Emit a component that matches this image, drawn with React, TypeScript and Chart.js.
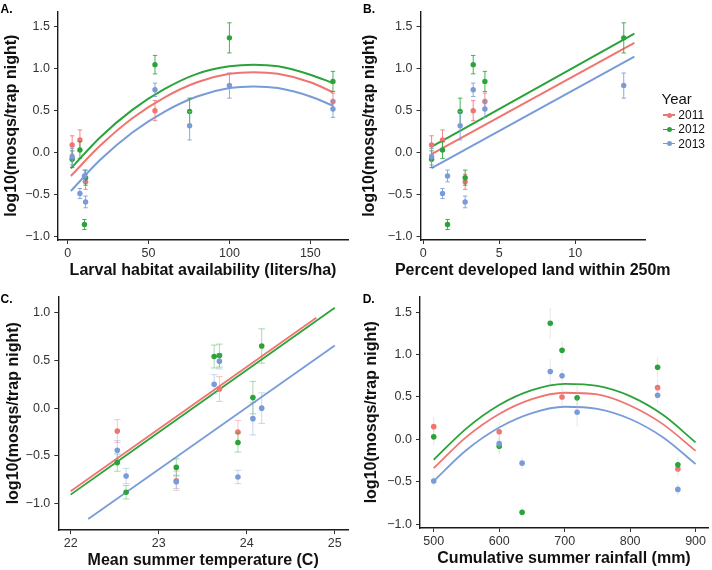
import React, { useEffect, useRef } from 'react';
import { Chart, registerables } from 'chart.js';

Chart.register(...registerables);

const FONT = '"Liberation Sans", Arial, Helvetica, sans-serif';

// ---------- data ----------
const YEARS = ['2011', '2012', '2013'];
const COLORS = ['#F07470', '#2CA33A', '#799CD9'];

// site-level predictors (8 sites)
const habitat = [2.8, 7.6, 10.4, 75.4, 11.1, 54, 164, 100];
const developed = [0.55, 1.27, 1.6, 2.43, 2.76, 3.29, 4.06, 13.2];
const rainfall = [600, 500, 635, 719, 873, 696, 842, 678];

// log10(mosqs/trap night) per site and year, with standard errors
const log2011 = [0.09, 0.15, null, null, -0.35, 0.5, 0.61, null];
const log2012 = [-0.08, 0.03, -0.86, 0.49, -0.3, 1.05, 0.85, 1.37];
const log2013 = [-0.05, -0.49, -0.28, 0.32, -0.59, 0.75, 0.52, 0.8];
const se2011 = [0.11, 0.12, null, null, 0.09, 0.12, 0.1, null];
const se2012 = [0.1, 0.1, 0.06, 0.16, 0.09, 0.11, 0.12, 0.18];
const se2013 = [0.1, 0.06, 0.07, 0.17, 0.07, 0.08, 0.1, 0.15];

// panel C: mean summer temperature by year
const temp2011 = [22.53, 23.2, 23.69, 23.9];
const tlog2011 = [-0.24, -0.76, 0.2, -0.25];
const tse2011 = [0.12, 0.1, 0.13, 0.12];
const temp2012 = [22.53, 22.63, 23.2, 23.63, 23.69, 23.9, 24.07, 24.17];
const tlog2012 = [-0.57, -0.88, -0.62, 0.54, 0.55, -0.36, 0.11, 0.65];
const tse2012 = [0.09, 0.07, 0.09, 0.12, 0.12, 0.1, 0.17, 0.18];
const temp2013 = [22.53, 22.63, 23.2, 23.63, 23.69, 23.9, 24.07, 24.17];
const tlog2013 = [-0.44, -0.71, -0.77, 0.25, 0.49, -0.72, -0.11, 0.0];
const tse2013 = [0.1, 0.08, 0.07, 0.1, 0.08, 0.07, 0.17, 0.16];

// fitted curves
const fitAx = [2, 20, 40, 60, 80, 100, 115, 130, 150, 164];
const fitA2011 = [-0.28, 0.08, 0.41, 0.66, 0.84, 0.94, 0.96, 0.94, 0.84, 0.72];
const fitA2012 = [-0.19, 0.18, 0.51, 0.76, 0.94, 1.03, 1.05, 1.03, 0.93, 0.83];
const fitA2013 = [-0.46, -0.09, 0.24, 0.49, 0.67, 0.77, 0.79, 0.77, 0.67, 0.56];

const fitBx = [0.55, 13.9];
const fitB2011 = [-0.02, 1.31];
const fitB2012 = [0.07, 1.42];
const fitB2013 = [-0.185, 1.145];

const fitCx2011 = [22, 24.79];
const fitC2011 = [-0.87, 0.945];
const fitCx2012 = [22, 25];
const fitC2012 = [-0.905, 1.05];
const fitCx2013 = [22.2, 25];
const fitC2013 = [-1.16, 0.655];

const fitDx = [500, 550, 600, 650, 700, 750, 800, 850, 900];
const fitD2011 = [-0.34, 0.03, 0.3, 0.475, 0.55, 0.53, 0.4, 0.18, -0.135];
const fitD2012 = [-0.24, 0.13, 0.405, 0.58, 0.655, 0.63, 0.51, 0.29, -0.035];
const fitD2013 = [-0.49, -0.125, 0.14, 0.31, 0.385, 0.36, 0.24, 0.025, -0.29];

// ticks
const yTicksMain = [-1, -0.5, 0, 0.5, 1, 1.5];
const yTicksC = [-1, -0.5, 0, 0.5, 1];
const xTicksA = [0, 50, 100, 150];
const xTicksB = [0, 5, 10];
const xTicksC = [22, 23, 24, 25];
const xTicksD = [500, 600, 700, 800, 900];

const Y_TITLE = 'log10(mosqs/trap night)';

// ---------- helpers ----------
type Series = { x: number[]; y: (number | null)[]; se: (number | null)[] };
type Fit = { x: number[]; y: number[] };

type Panel = {
  left: number; top: number; width: number; height: number;
  pad: { top: number; right: number; bottom: number; left: number };
  yWidth: number; xHeight: number;
  xMin: number; xMax: number; yMin: number; yMax: number;
  xTicks: number[]; yTicks: number[];
  xTitle: string; xTitleY: number; yTitleX: number;
  points: Series[]; fits: Fit[];
  errAlpha: number; errCap: number; errGrey?: string;
  pointRadius: number; lineWidth: number;
};

function hexToRgba(hex: string, a: number) {
  const n = parseInt(hex.slice(1), 16);
  return `rgba(${(n >> 16) & 255},${(n >> 8) & 255},${n & 255},${a})`;
}

const errorBarPlugin = {
  id: 'errorBars',
  beforeDatasetDraw(chart: any, args: any) {
    const ds = chart.data.datasets[args.index];
    if (!ds.errors) return;
    const meta = args.meta;
    const ys = chart.scales.y;
    const ctx = chart.ctx;
    ctx.save();
    ctx.strokeStyle = ds.errorColor;
    ctx.lineWidth = 1;
    ds.data.forEach((p: any, i: number) => {
      const e = ds.errors[i];
      if (e == null) return;
      const el = meta.data[i];
      if (!el) return;
      const x = el.x;
      const y1 = ys.getPixelForValue(p.y + e);
      const y2 = ys.getPixelForValue(p.y - e);
      ctx.beginPath();
      ctx.moveTo(x, y1);
      ctx.lineTo(x, y2);
      if (ds.errorCap > 0) {
        ctx.moveTo(x - ds.errorCap, y1);
        ctx.lineTo(x + ds.errorCap, y1);
        ctx.moveTo(x - ds.errorCap, y2);
        ctx.lineTo(x + ds.errorCap, y2);
      }
      ctx.stroke();
    });
    ctx.restore();
  },
};

const axisTitlePlugin = {
  id: 'axisTitles',
  afterDraw(chart: any) {
    const o = chart.options.plugins.axisTitles;
    if (!o) return;
    const ca = chart.chartArea;
    const ctx = chart.ctx;
    ctx.save();
    ctx.font = `bold 16px ${FONT}`;
    ctx.fillStyle = '#111';
    ctx.textAlign = 'center';
    ctx.textBaseline = 'middle';
    ctx.fillText(o.xText, (ca.left + ca.right) / 2, o.xY);
    ctx.translate(o.yX, (ca.top + ca.bottom) / 2);
    ctx.rotate(-Math.PI / 2);
    ctx.fillText(o.yText, 0, 0);
    ctx.restore();
  },
};

function fmtY(v: number) {
  const s = Number(v).toFixed(1);
  return s.startsWith('-') ? '\u2212' + s.slice(1) : s;
}

function buildConfig(p: Panel): any {
  const datasets: any[] = [];
  p.fits.forEach((f, k) => {
    datasets.push({
      type: 'line',
      data: f.x.map((x, i) => ({ x, y: f.y[i] })),
      borderColor: COLORS[k],
      borderWidth: p.lineWidth,
      pointRadius: 0,
      cubicInterpolationMode: 'monotone',
      fill: false,
      showLine: true,
      order: 12 - k,
    });
  });
  p.points.forEach((s, k) => {
    const data: any[] = [];
    const errors: any[] = [];
    s.x.forEach((x, i) => {
      const y = s.y[i];
      if (y == null) return;
      data.push({ x, y });
      errors.push(s.se[i]);
    });
    datasets.push({
      type: 'scatter',
      data,
      errors,
      errorColor: p.errGrey ? p.errGrey : hexToRgba(COLORS[k], p.errAlpha),
      errorCap: p.errCap,
      backgroundColor: COLORS[k],
      borderWidth: 0,
      pointRadius: p.pointRadius,
      showLine: false,
      order: 3 - k,
    });
  });

  const tickFont = { family: FONT, size: 12.5 };
  const grid = {
    display: true,
    drawOnChartArea: false,
    drawTicks: true,
    tickLength: 4,
    tickColor: '#333',
    tickWidth: 1,
  };
  const border = { display: true, color: '#1a1a1a', width: 1.4 };

  return {
    type: 'scatter',
    data: { datasets },
    options: {
      animation: false,
      responsive: false,
      events: [],
      layout: { padding: p.pad },
      plugins: {
        legend: { display: false },
        tooltip: { enabled: false },
        axisTitles: { xText: p.xTitle, xY: p.xTitleY, yText: Y_TITLE, yX: p.yTitleX },
      },
      scales: {
        x: {
          type: 'linear',
          position: 'bottom',
          min: p.xMin,
          max: p.xMax,
          afterBuildTicks: (s: any) => {
            s.ticks = p.xTicks.map((v) => ({ value: v }));
          },
          afterFit: (s: any) => {
            s.height = p.xHeight;
          },
          ticks: {
            autoSkip: false,
            maxRotation: 0,
            padding: 2,
            color: '#333',
            font: tickFont,
            callback: (v: any) => String(v),
          },
          grid,
          border,
        },
        y: {
          type: 'linear',
          position: 'left',
          min: p.yMin,
          max: p.yMax,
          afterBuildTicks: (s: any) => {
            s.ticks = p.yTicks.map((v) => ({ value: v }));
          },
          afterFit: (s: any) => {
            s.width = p.yWidth;
          },
          ticks: {
            autoSkip: false,
            padding: 4,
            color: '#333',
            font: tickFont,
            callback: (v: any) => fmtY(v),
          },
          grid,
          border,
        },
      },
    },
    plugins: [errorBarPlugin, axisTitlePlugin],
  };
}

const siteSeries = (x: number[]): Series[] => [
  { x, y: log2011, se: se2011 },
  { x, y: log2012, se: se2012 },
  { x, y: log2013, se: se2013 },
];

const panels: Panel[] = [
  {
    left: 0, top: 0, width: 356, height: 285,
    pad: { top: 3, right: 8, bottom: 0, left: 0 },
    yWidth: 58, xHeight: 45,
    xMin: -5.95, xMax: 173.3, yMin: -1.045, yMax: 1.685,
    xTicks: xTicksA, yTicks: yTicksMain,
    xTitle: 'Larval habitat availability (liters/ha)', xTitleY: 271, yTitleX: 11.5,
    points: siteSeries(habitat),
    fits: [
      { x: fitAx, y: fitA2011 },
      { x: fitAx, y: fitA2012 },
      { x: fitAx, y: fitA2013 },
    ],
    errAlpha: 0.85, errCap: 2.2, pointRadius: 2.7, lineWidth: 2,
  },
  {
    left: 356, top: 0, width: 356, height: 285,
    pad: { top: 3, right: 67, bottom: 0, left: 0 },
    yWidth: 64.5, xHeight: 45,
    xMin: -0.18, xMax: 14.6, yMin: -1.045, yMax: 1.685,
    xTicks: xTicksB, yTicks: yTicksMain,
    xTitle: 'Percent developed land within 250m', xTitleY: 271, yTitleX: 13.5,
    points: siteSeries(developed),
    fits: [
      { x: fitBx, y: fitB2011 },
      { x: fitBx, y: fitB2012 },
      { x: fitBx, y: fitB2013 },
    ],
    errAlpha: 0.85, errCap: 2.2, pointRadius: 2.7, lineWidth: 2,
  },
  {
    left: 0, top: 285, width: 356, height: 285,
    pad: { top: 8, right: 8, bottom: 0, left: 0 },
    yWidth: 58.3, xHeight: 40,
    xMin: 21.86, xMax: 25.15, yMin: -1.275, yMax: 1.168,
    xTicks: xTicksC, yTicks: yTicksC,
    xTitle: 'Mean summer temperature (C)', xTitleY: 276, yTitleX: 14,
    points: [
      { x: temp2011, y: tlog2011, se: tse2011 },
      { x: temp2012, y: tlog2012, se: tse2012 },
      { x: temp2013, y: tlog2013, se: tse2013 },
    ],
    fits: [
      { x: fitCx2011, y: fitC2011 },
      { x: fitCx2012, y: fitC2012 },
      { x: fitCx2013, y: fitC2013 },
    ],
    errAlpha: 0.4, errCap: 3.3, pointRadius: 2.8, lineWidth: 1.8,
  },
  {
    left: 356, top: 285, width: 356, height: 285,
    pad: { top: 8, right: 2, bottom: 0, left: 0 },
    yWidth: 64, xHeight: 42,
    xMin: 479, xMax: 919, yMin: -1.045, yMax: 1.685,
    xTicks: xTicksD, yTicks: yTicksMain,
    xTitle: 'Cumulative summer rainfall (mm)', xTitleY: 274, yTitleX: 15.5,
    points: siteSeries(rainfall),
    fits: [
      { x: fitDx, y: fitD2011 },
      { x: fitDx, y: fitD2012 },
      { x: fitDx, y: fitD2013 },
    ],
    errAlpha: 0.2, errCap: 0, errGrey: 'rgba(185,185,185,0.35)', pointRadius: 2.8, lineWidth: 1.8,
  },
];

const panelLabels = [
  { text: 'A.', left: 0.5, top: 3.1 },
  { text: 'B.', left: 363, top: 3.1 },
  { text: 'C.', left: 0.5, top: 292.5 },
  { text: 'D.', left: 362.7, top: 292.5 },
];

function PanelChart({ p }: { p: Panel }) {
  const ref = useRef<HTMLCanvasElement | null>(null);
  useEffect(() => {
    if (!ref.current) return;
    const chart = new Chart(ref.current, buildConfig(p));
    return () => chart.destroy();
  }, [p]);
  return (
    <canvas
      ref={ref}
      width={p.width}
      height={p.height}
      style={{ position: 'absolute', left: p.left, top: p.top, width: p.width, height: p.height }}
    />
  );
}

export default function App() {
  const rowCenters = [115.2, 129.4, 143.6];
  return (
    <div
      style={{
        position: 'absolute',
        left: 0,
        top: 0,
        width: 712,
        height: 570,
        background: '#fff',
        overflow: 'hidden',
      }}
    >
      {panels.map((p, i) => (
        <PanelChart key={i} p={p} />
      ))}
      {panelLabels.map((l) => (
        <div
          key={l.text}
          style={{
            position: 'absolute',
            left: l.left,
            top: l.top,
            font: `bold 12px ${FONT}`,
            lineHeight: '12px',
            color: '#000',
          }}
        >
          {l.text}
        </div>
      ))}
      <div
        style={{
          position: 'absolute',
          left: 661.5,
          top: 91.3,
          font: `15px ${FONT}`,
          lineHeight: '15px',
          color: '#111',
        }}
      >
        Year
      </div>
      {YEARS.map((y, k) => (
        <div
          key={y}
          style={{
            position: 'absolute',
            left: 663,
            top: rowCenters[k] - 7,
            height: 14,
            display: 'flex',
            alignItems: 'center',
          }}
        >
          <div style={{ position: 'relative', width: 12, height: 14 }}>
            <div
              style={{
                position: 'absolute',
                left: 0,
                top: 6.25,
                width: 12,
                height: 1.5,
                background: COLORS[k],
              }}
            />
            <div
              style={{
                position: 'absolute',
                left: 3.5,
                top: 4.5,
                width: 5,
                height: 5,
                borderRadius: '50%',
                background: COLORS[k],
              }}
            />
          </div>
          <span
            style={{
              marginLeft: 3.3,
              font: `12px ${FONT}`,
              lineHeight: '14px',
              color: '#111',
            }}
          >
            {y}
          </span>
        </div>
      ))}
    </div>
  );
}
